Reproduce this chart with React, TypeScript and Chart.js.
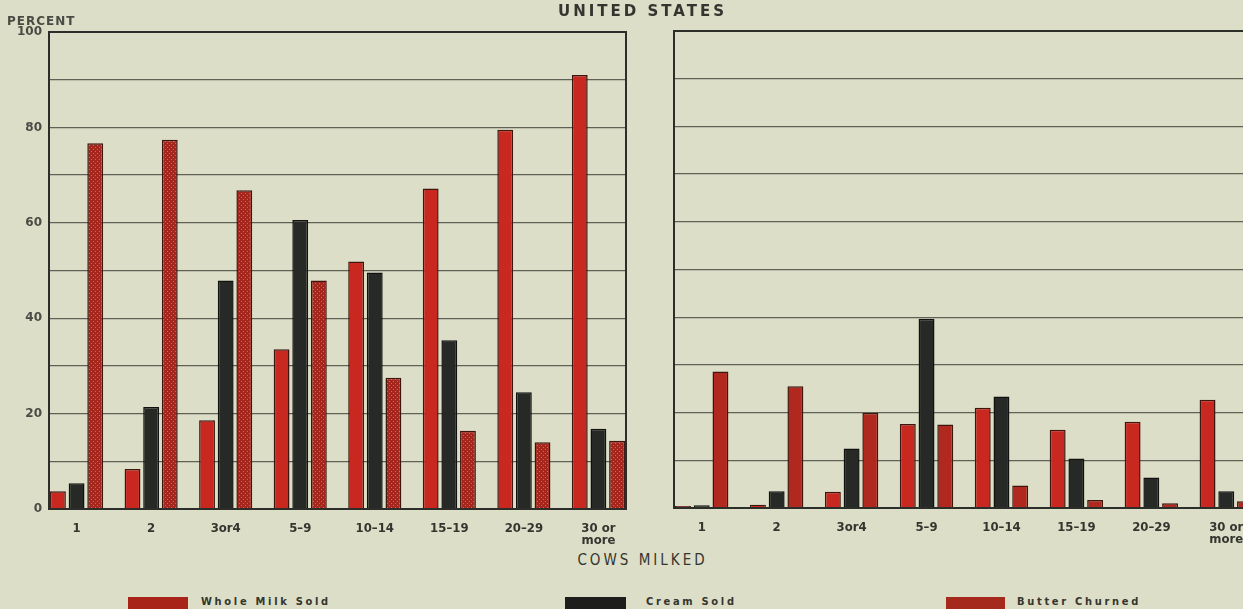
import React, { useEffect, useRef } from 'react';
import { Chart, registerables } from 'chart.js';

Chart.register(...registerables);

const categories = ['1', '2', '3or4', '5–9', '10–14', '15–19', '20–29', '30 or more'];
const seriesNames = ['Whole Milk Sold', 'Cream Sold', 'Butter Churned'];

const leftWholeMilk = [3.7, 8.4, 18.6, 33.5, 51.9, 67.2, 79.5, 91.0];
const leftCream = [5.4, 21.4, 47.9, 60.6, 49.6, 35.4, 24.5, 16.8];
const leftButter = [76.7, 77.4, 66.8, 47.9, 27.5, 16.4, 14.0, 14.3];

const rightWholeMilk = [0.4, 0.7, 3.4, 17.6, 21.0, 16.4, 18.1, 22.7];
const rightCream = [0.6, 3.5, 12.5, 39.7, 23.4, 10.4, 6.4, 3.5];
const rightButter = [28.6, 25.5, 19.9, 17.5, 4.7, 1.7, 1.0, 1.4];

const yLabelTicks = [0, 20, 40, 60, 80, 100];

const PAPER = '#dcdec7';
const RED = '#c8281f';
const BLACK = '#262925';
const BUTTER = '#b0281e';
const GRID = '#5f6157';
const TEXT = '#34352f';

function makePattern(): CanvasPattern | string {
  const c = document.createElement('canvas');
  c.width = 4;
  c.height = 4;
  const g = c.getContext('2d');
  if (!g) return BUTTER;
  g.fillStyle = '#a5261c';
  g.fillRect(0, 0, 4, 4);
  g.fillStyle = '#d2685a';
  g.fillRect(1, 1, 1, 1);
  g.fillRect(3, 3, 1, 1);
  const p = g.createPattern(c, 'repeat');
  return p || BUTTER;
}

const framePlugin = {
  id: 'frame',
  afterDraw(chart: any) {
    const { ctx, chartArea } = chart;
    ctx.save();
    ctx.strokeStyle = '#2c2e29';
    ctx.lineWidth = 2;
    ctx.strokeRect(chartArea.left, chartArea.top, chartArea.right - chartArea.left, chartArea.bottom - chartArea.top);
    ctx.restore();
  },
};

function toPoints(values: number[]) {
  return values.map((v, i) => ({ x: i, y: v }));
}

function makeConfig(series: number[][], showY: boolean, butterFill: any, padding: any, xHeight: number): any {
  const fills = [RED, BLACK, butterFill];
  const borders = ['#3e1610', '#111110', '#3e1610'];
  return {
    type: 'bar',
    data: {
      datasets: series.map((vals, k) => ({
        label: seriesNames[k],
        data: toPoints(vals),
        backgroundColor: fills[k],
        borderColor: borders[k],
        borderWidth: 1.5,
        barPercentage: 0.85,
        categoryPercentage: 0.75,
      })),
    },
    options: {
      responsive: false,
      animation: false,
      layout: { padding },
      plugins: { legend: { display: false }, tooltip: { enabled: false }, title: { display: false } },
      scales: {
        x: {
          type: 'linear',
          offset: false,
          min: -0.37,
          max: 7.37,
          grid: { display: false, drawTicks: false, offset: false },
          border: { display: false },
          afterBuildTicks: (axis: any) => {
            axis.ticks = categories.map((_, i) => ({ value: i }));
          },
          afterFit: (s: any) => {
            s.height = xHeight;
          },
          ticks: {
            autoSkip: false,
            maxRotation: 0,
            minRotation: 0,
            padding: 13,
            color: TEXT,
            font: { family: 'DejaVu Sans Condensed, DejaVu Sans', size: 13, weight: 'bold', lineHeight: 0.95 },
            callback: (v: number) => {
              const l = categories[v];
              if (l === undefined) return '';
              return l === '30 or more' ? ['30 or', 'more'] : l;
            },
          },
        },
        y: {
          min: 0,
          max: 100,
          grid: { color: GRID, lineWidth: 1.3, drawTicks: false },
          border: { display: false },
          afterFit: (s: any) => {
            s.width = showY ? 49 : 0;
          },
          ticks: {
            display: showY,
            stepSize: 10,
            padding: 7,
            color: '#4a4b44',
            font: { family: 'DejaVu Sans', size: 12, weight: 'bold' },
            callback: (v: number) => (yLabelTicks.includes(v) ? String(v) : ''),
          },
        },
      },
    },
    plugins: [framePlugin],
  };
}

export default function App() {
  const leftRef = useRef<HTMLCanvasElement>(null);
  const rightRef = useRef<HTMLCanvasElement>(null);

  useEffect(() => {
    const pattern = makePattern();
    const left = new Chart(
      leftRef.current as HTMLCanvasElement,
      makeConfig([leftWholeMilk, leftCream, leftButter], true, pattern, { left: 0, top: 32, right: 14, bottom: 0 }, 36)
    );
    const right = new Chart(
      rightRef.current as HTMLCanvasElement,
      makeConfig([rightWholeMilk, rightCream, rightButter], false, BUTTER, { left: 34, top: 31, right: 26, bottom: 0 }, 37)
    );
    return () => {
      left.destroy();
      right.destroy();
    };
  }, []);

  const legendText: React.CSSProperties = {
    position: 'absolute',
    top: 595,
    fontFamily: 'DejaVu Sans Condensed, DejaVu Sans, sans-serif',
    fontWeight: 'bold',
    fontSize: 11,
    letterSpacing: '2.7px',
    color: TEXT,
    whiteSpace: 'nowrap',
    lineHeight: '14px',
  };
  const box = (left: number, width: number, color: string): React.CSSProperties => ({
    position: 'absolute',
    left,
    top: 597,
    width,
    height: 16,
    background: color,
  });

  return (
    <div
      style={{
        position: 'absolute',
        left: 0,
        top: 0,
        width: 1243,
        height: 609,
        overflow: 'hidden',
        background: PAPER,
      }}
    >
      <canvas ref={leftRef} width={640} height={545} style={{ position: 'absolute', left: 0, top: 0 }} />
      <canvas ref={rightRef} width={640} height={545} style={{ position: 'absolute', left: 640, top: 0 }} />
      <div
        style={{
          position: 'absolute',
          left: 0,
          top: 2,
          width: 1285,
          textAlign: 'center',
          fontFamily: 'DejaVu Sans, sans-serif',
          fontWeight: 'bold',
          fontSize: 15,
          letterSpacing: '3px',
          lineHeight: '18px',
          color: TEXT,
        }}
      >
        UNITED STATES
      </div>
      <div
        style={{
          position: 'absolute',
          left: 7,
          top: 14,
          fontFamily: 'DejaVu Sans, sans-serif',
          fontWeight: 'bold',
          fontSize: 12,
          letterSpacing: '1px',
          lineHeight: '14px',
          color: '#4a4b44',
        }}
      >
        PERCENT
      </div>
      <div
        style={{
          position: 'absolute',
          left: 0,
          top: 551,
          width: 1285,
          textAlign: 'center',
          fontFamily: 'DejaVu Sans Condensed, DejaVu Sans, sans-serif',
          fontSize: 15,
          letterSpacing: '3px',
          lineHeight: '18px',
          color: TEXT,
        }}
      >
        COWS MILKED
      </div>
      <div style={box(128, 60, '#a82318')} />
      <div style={{ ...legendText, left: 201 }}>{seriesNames[0]}</div>
      <div style={box(565, 61, '#1d1e1b')} />
      <div style={{ ...legendText, left: 646 }}>{seriesNames[1]}</div>
      <div style={box(946, 59, '#a6291d')} />
      <div style={{ ...legendText, left: 1017 }}>{seriesNames[2]}</div>
    </div>
  );
}
